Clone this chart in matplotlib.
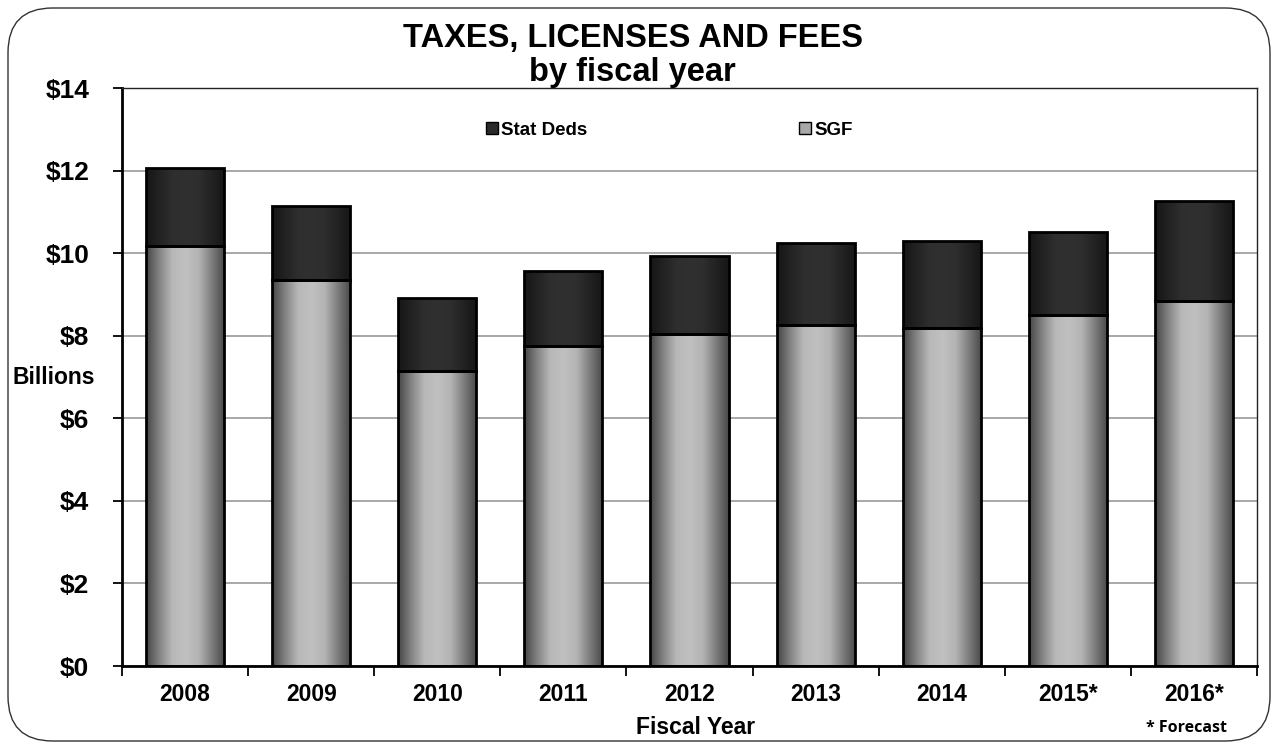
import matplotlib.pyplot as plt
import numpy as np
from matplotlib.patches import FancyBboxPatch, Patch
from matplotlib.colors import LinearSegmentedColormap

plt.rcParams['font.family'] = ['Liberation Sans', 'DejaVu Sans']

years = ['2008', '2009', '2010', '2011', '2012', '2013', '2014', '2015*', '2016*']
sgf = [10.17, 9.35, 7.14, 7.75, 8.04, 8.26, 8.18, 8.50, 8.84]
total = [12.06, 11.14, 8.91, 9.56, 9.93, 10.24, 10.29, 10.51, 11.26]
stat_deds = [t - s for t, s in zip(total, sgf)]

fig = plt.figure(figsize=(12.78, 7.53), dpi=100)

# rounded frame round the whole chart
frame = FancyBboxPatch((8 / 1278, 12 / 753), 1262 / 1278, 733 / 753,
                       boxstyle='round,pad=0,rounding_size=0.035',
                       transform=fig.transFigure, facecolor='white',
                       edgecolor='#333333', linewidth=1.0, zorder=-5,
                       mutation_aspect=1278 / 753)
fig.patches.append(frame)

ax = fig.add_axes([122 / 1278, 1 - 666 / 753, 1135 / 1278, 578 / 753])
ax.set_facecolor('none')
ax.set_zorder(1)

x = np.arange(len(years))
width = 0.62

sgf_cmap = LinearSegmentedColormap.from_list(
    'sgf', ['#454545', '#838383', '#b8b8b8', '#c0c0c0', '#b4b4b4', '#7e7e7e', '#484848'])
sd_cmap = LinearSegmentedColormap.from_list(
    'sd', ['#161616', '#222222', '#2e2e2e', '#303030', '#2e2e2e', '#222222', '#161616'])
ramp = np.linspace(0, 1, 256).reshape(1, -1)


def shaded(bars, cmap):
    for b in bars:
        x0, y0 = b.get_x(), b.get_y()
        im = ax.imshow(ramp, cmap=cmap, aspect='auto', interpolation='bilinear',
                       extent=[x0, x0 + b.get_width(), y0, y0 + b.get_height()],
                       zorder=2)
        im.set_clip_path(b)


b1 = ax.bar(x, sgf, width, facecolor='none', edgecolor='black', linewidth=2, zorder=3)
b2 = ax.bar(x, stat_deds, width, bottom=sgf, facecolor='none', edgecolor='black',
            linewidth=2, zorder=3)
shaded(b1, sgf_cmap)
shaded(b2, sd_cmap)

ax.set_xlim(-0.5, len(years) - 0.5)
ax.set_ylim(0, 14)
ax.set_yticks(np.arange(0, 15, 2))
ax.set_yticklabels(['$%d' % v for v in range(0, 15, 2)], fontsize=19, fontweight='bold')
ax.yaxis.grid(True, color='#999999', linewidth=1.2, zorder=0)
ax.set_axisbelow(True)

ax.set_xticks(x)
ax.set_xticklabels(years, fontsize=16.5, fontweight='bold')
ax.tick_params(axis='x', which='major', length=0, pad=12)
ax.set_xticks(np.arange(-0.5, len(years), 1), minor=True)
ax.tick_params(axis='x', which='minor', length=7, width=1.3, direction='out')
ax.tick_params(axis='y', length=6.5, width=1.3, direction='out', pad=17)

for side in ['left', 'bottom']:
    ax.spines[side].set_linewidth(2)
for side in ['top', 'right']:
    ax.spines[side].set_linewidth(1)
    ax.spines[side].set_color('#222222')

ax.set_xlabel('Fiscal Year', fontsize=16.5, fontweight='bold')
ax.xaxis.set_label_coords((696 - 122) / 1135, -(727 - 666) / 578)
ax.xaxis.label.set_va('center')

fig.text(12 / 1278, 1 - 378 / 753, 'Billions', fontsize=16.5, fontweight='bold',
         va='center', ha='left')
fig.text(0.495, 1 - 38 / 753, 'TAXES, LICENSES AND FEES', fontsize=23.5,
         fontweight='bold', ha='center', va='center')
fig.text(0.495, 1 - 73 / 753, 'by fiscal year', fontsize=23.5,
         fontweight='bold', ha='center', va='center')
fig.text(1187 / 1278, 1 - 728 / 753, '* Forecast', fontsize=11.5, fontweight='bold',
         family=['Open Sans', 'DejaVu Sans'], ha='center', va='center')

handles = [Patch(facecolor='#2a2a2a', edgecolor='black', linewidth=1),
           Patch(facecolor='#a8a8a8', edgecolor='black', linewidth=1)]
leg = ax.legend(handles, ['Stat Deds', 'SGF'], ncol=2, frameon=False,
                loc='center', bbox_to_anchor=(0.482, 0.927),
                prop={'weight': 'bold', 'size': 13.5}, handlelength=0.65,
                handleheight=0.65, handletextpad=0.16, columnspacing=11.3)

fig.savefig('out.png', dpi=100)
